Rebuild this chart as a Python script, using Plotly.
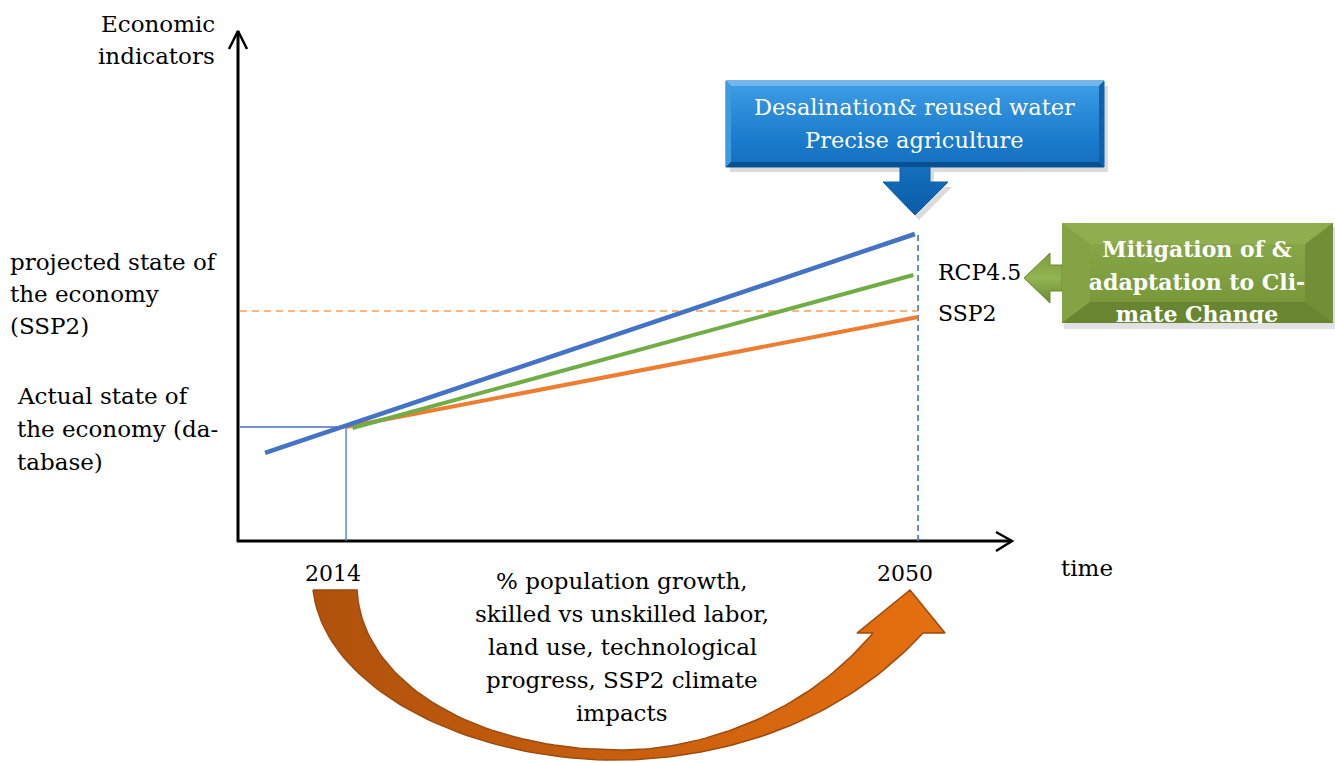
import plotly.graph_objects as go

# ---------------- data ----------------
marked_years = [2014, 2050]
marked_year_labels = ["2014", "2050"]

# economic trajectories: with adaptation (blue), RCP4.5 (green), SSP2 baseline (orange)
adapt_years = [2008.9, 2049.8]
adapt_values = [77.2, 269.3]
rcp45_years = [2014.4, 2049.7]
rcp45_values = [99.1, 233.3]
ssp2_years = [2014.0, 2050.0]
ssp2_values = [100.0, 196.5]

actual_state = 100.0      # state of the economy in 2014 (database)
projected_state = 201.8   # projected state of the economy (SSP2)

end_labels = ["RCP4.5", "SSP2"]
end_label_values = [rcp45_values[-1], ssp2_values[-1]]

# ---------------- canvas / scales ----------------
W, H = 1335, 763
XR = (1992.22, 2076.24)
YR = (-194.74, 474.56)

BLUE = "#4472C4"
GREEN = "#70AD47"
ORANGE = "#ED7D31"
FONT = "DejaVu Serif"


def dx(px):
    return XR[0] + px / W * (XR[1] - XR[0])


def dy(py):
    return YR[1] - py / H * (YR[1] - YR[0])


def bez(p0, p1, p2, p3, n=48):
    pts = []
    for i in range(n + 1):
        t = i / n
        a, b, c, d = (1 - t) ** 3, 3 * (1 - t) ** 2 * t, 3 * (1 - t) * t ** 2, t ** 3
        pts.append((a * p0[0] + b * p1[0] + c * p2[0] + d * p3[0],
                    a * p0[1] + b * p1[1] + c * p2[1] + d * p3[1]))
    return pts


fig = go.Figure()


def poly(pts, fill, line_color=None, line_width=0, gradient=None):
    pts = list(pts) + [pts[0]]
    kw = dict(
        x=[dx(p[0]) for p in pts], y=[dy(p[1]) for p in pts],
        mode="lines", fill="toself", hoverinfo="skip",
        line=dict(color=line_color or fill, width=line_width),
        fillcolor=fill,
    )
    if gradient:
        kw["fillgradient"] = gradient
    fig.add_trace(go.Scatter(**kw))


def seg(pts, color, width, dash="solid"):
    fig.add_trace(go.Scatter(
        x=[dx(p[0]) for p in pts], y=[dy(p[1]) for p in pts],
        mode="lines", hoverinfo="skip",
        line=dict(color=color, width=width, dash=dash)))


# ---------------- axes with arrow heads ----------------
seg([(238, 542), (238, 31)], "black", 3)
seg([(229, 49), (238, 31), (247, 49)], "black", 2.5)
seg([(237, 541), (1011, 541)], "black", 3)
seg([(996, 532), (1012, 541), (996, 551)], "black", 2.5)

# ---------------- reference guides ----------------
x_axis_year = dx(240)
fig.add_trace(go.Scatter(x=[x_axis_year, marked_years[0], marked_years[0]],
                         y=[actual_state, actual_state, 0],
                         mode="lines", line=dict(color=BLUE, width=1.3), hoverinfo="skip"))
fig.add_trace(go.Scatter(x=[marked_years[1], marked_years[1]],
                         y=[0, adapt_values[-1]],
                         mode="lines", line=dict(color=BLUE, width=1.6, dash="6px,4px"),
                         hoverinfo="skip"))
fig.add_trace(go.Scatter(x=[x_axis_year, marked_years[1]],
                         y=[projected_state, projected_state],
                         mode="lines", line=dict(color="#F4A05C", width=1.6, dash="7px,5px"),
                         hoverinfo="skip"))

# ---------------- trajectories ----------------
fig.add_trace(go.Scatter(x=ssp2_years, y=ssp2_values, mode="lines",
                         line=dict(color=ORANGE, width=4), name="SSP2"))
fig.add_trace(go.Scatter(x=rcp45_years, y=rcp45_values, mode="lines",
                         line=dict(color=GREEN, width=4), name="RCP4.5"))
fig.add_trace(go.Scatter(x=adapt_years, y=adapt_values, mode="lines",
                         line=dict(color=BLUE, width=4.5), name="Adaptation"))

# ---------------- blue callout (technologies) ----------------
callout = [(726, 81), (1104, 81), (1104, 167), (930, 167), (930, 182), (948, 182),
           (915, 215), (883, 182), (900, 182), (900, 167), (726, 167)]
poly([(x + 4, y + 5) for x, y in callout], "rgba(90,90,90,0.22)")
poly(callout, "#1B7BCB", line_color="#0E5FA8", line_width=1,
     gradient=dict(type="vertical",
                   colorscale=[[0, "#0A5CA6"], [0.55, "#1A7ACB"], [1, "#3E9EE6"]]))
poly([(726, 81), (1104, 81), (1099, 86), (731, 86)], "#6DB8F0")
poly([(726, 81), (731, 86), (731, 162), (726, 167)], "#3F9BE0")
poly([(1104, 81), (1099, 86), (1099, 162), (1104, 167)], "#0D62AE")
poly([(726, 167), (731, 162), (1099, 162), (1104, 167)], "#094F92")

# ---------------- green callout (mitigation / adaptation) ----------------
poly([(1066, 227), (1335, 227), (1335, 329), (1066, 329)], "rgba(90,90,90,0.2)")
poly([(1062, 265), (1050, 265), (1050, 253), (1024, 278), (1050, 303),
      (1050, 291), (1062, 291)], "#7F9F40", line_color="#6A8832", line_width=1,
     gradient=dict(type="vertical",
                   colorscale=[[0, "#6C8B33"], [0.5, "#93B452"], [1, "#7C9C3E"]]))
gbox = [(1062, 223), (1333, 223), (1333, 323), (1062, 323)]
poly(gbox, "#7A9A3D", gradient=dict(type="vertical",
                                    colorscale=[[0, "#6E8D34"], [0.5, "#7C9C3F"], [1, "#8BAA4B"]]))
poly([(1062, 223), (1333, 223), (1305, 244), (1090, 244)], "#8FAE50")
poly([(1062, 223), (1090, 244), (1090, 302), (1062, 323)], "#83A345")
poly([(1333, 223), (1305, 244), (1305, 302), (1333, 323)], "#718F37")
poly([(1062, 323), (1090, 302), (1305, 302), (1333, 323)], "#688631")
poly([(1090, 244), (1305, 244), (1305, 302), (1090, 302)], "#7E9E41",
     gradient=dict(type="vertical",
                   colorscale=[[0, "#789839"], [1, "#86A647"]]))

green_lines = ["Mitigation of &", "adaptation to Cli-", "mate Change"]
green_line_y = [251, 284, 316]
fig.add_trace(go.Scatter(x=[dx(1197)] * 3, y=[dy(v) for v in green_line_y],
                         mode="text", text=green_lines, hoverinfo="skip",
                         textfont=dict(family=FONT, size=22, color="white", weight="bold")))

# ---------------- curved driver arrow (2014 -> 2050) ----------------
outer = bez((313, 590), (325, 690), (470, 760), (615, 760)) + \
    bez((615, 760), (680, 760), (820, 745), (923, 633))[1:]
inner = bez((357, 590), (362, 680), (470, 748), (615, 750)) + \
    bez((615, 750), (690, 752), (800, 720), (873, 633))[1:]
arrow = outer + [(945, 633), (910, 590), (857, 633)] + inner[::-1]
poly(arrow, "#C65F0D", line_color="#9C4A0E", line_width=1.5,
     gradient=dict(type="horizontal",
                   colorscale=[[0, "#B0520C"], [0.5, "#C85F0D"], [1, "#E6700F"]]))

# ---------------- texts ----------------
ann = []


def text(s, px, py, anchor="left", size=23, color="black"):
    ann.append(dict(text=s, x=px / W, y=1 - py / H, xref="paper", yref="paper",
                    xanchor=anchor, yanchor="middle", showarrow=False,
                    font=dict(family=FONT, size=size, color=color)))


text("Economic", 217, 24, "right")
text("indicators", 217, 56, "right")
text("projected state of", 8, 262)
text("the economy", 8, 294)
text("(SSP2)", 8, 326)
text("Actual state of", 15, 396)
text("the economy (da-", 15, 429)
text("tabase)", 15, 462)
for yr, lab in zip(marked_years, marked_year_labels):
    ann.append(dict(text=lab, x=yr, y=dy(573), xref="x", yref="y",
                    xanchor="center", xshift=-13, yanchor="middle", showarrow=False,
                    font=dict(family=FONT, size=22, color="black")))
text("time", 1087, 568, "center")
for lab, val in zip(end_labels, end_label_values):
    ann.append(dict(text=lab, x=dx(936), y=val, xref="x", yref="y",
                    xanchor="left", yanchor="middle", yshift=3, showarrow=False,
                    font=dict(family=FONT, size=22, color="black")))

for s, py in zip(["% population growth,", "skilled vs unskilled labor,",
                  "land use, technological", "progress, SSP2 climate", "impacts"],
                 [581, 614, 647, 680, 713]):
    text(s, 622, py, "center")

text("Desalination& reused water", 914, 107, "center", 22.5, "white")
text("Precise agriculture", 914, 140, "center", 22.5, "white")

fig.update_layout(
    width=W, height=H, margin=dict(l=0, r=0, t=0, b=0),
    paper_bgcolor="white", plot_bgcolor="white", showlegend=False,
    xaxis=dict(range=list(XR), visible=False, fixedrange=True),
    yaxis=dict(range=list(YR), visible=False, fixedrange=True),
    annotations=ann,
    shapes=[dict(type="rect", xref="paper", yref="paper",
                 x0=1058 / W, x1=1.0, y0=1 - 345 / H, y1=1 - 323.5 / H,
                 fillcolor="white", line=dict(width=0), layer="above"),
            dict(type="rect", xref="paper", yref="paper",
                 x0=1064 / W, x1=1.0, y0=1 - 329 / H, y1=1 - 323.5 / H,
                 fillcolor="rgba(90,90,90,0.18)", line=dict(width=0), layer="above")],
)

fig.write_html("out.html")
